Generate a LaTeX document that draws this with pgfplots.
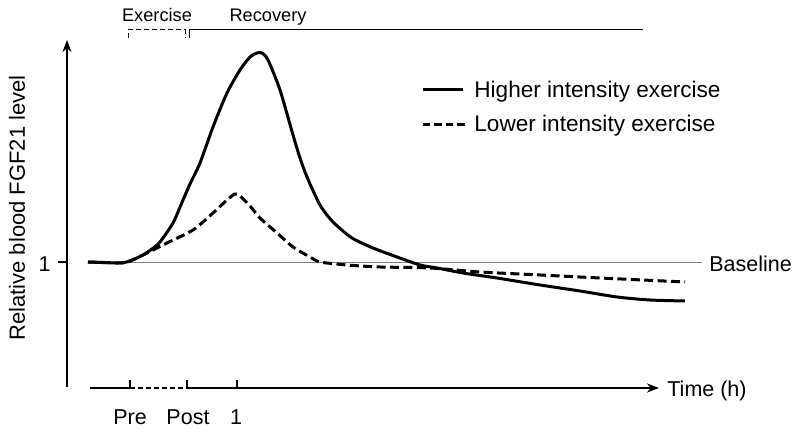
\documentclass[border=0pt]{standalone}
\usepackage{fontspec}
\setmainfont{Liberation Sans}
\usepackage{pgfplots}
\pgfplotsset{compat=1.18}
\usetikzlibrary{arrows.meta}

\begin{document}
\begin{tikzpicture}
\begin{axis}[
    x=0.5pt, y=0.5pt,
    xmin=0, xmax=800, ymin=0, ymax=432,
    hide axis,
    clip=false,
]
% fixes the picture to the full 800 x 432 frame
\path (axis cs:0,0) rectangle (axis cs:800,432);

% baseline
\addplot[gray, line width=0.5pt] coordinates {(88,169.5) (702,169.5)};

% higher intensity
\addplot[black, line width=1.5pt, smooth, tension=0.45, line join=round] coordinates {
    (88,170) (105,169.5) (120,169) (130,171) (143,177) (152,183) (160,190)
    (173,209) (183,232) (190,248) (200,269) (213,305) (227,339) (240,362)
    (250,375) (257,379) (262,379) (268,372) (280,342) (293,297) (300,274)
    (307,255) (320,227) (333,210) (352,194) (373,184) (397,175) (420,167)
    (437,164) (463,159) (497,154) (540,147) (580,141) (617,135) (650,132) (685,131)
};

% lower intensity
\addplot[black, line width=1.5pt, smooth, tension=0.45, dash pattern=on 4.5pt off 2.2pt] coordinates {
    (88,170) (120,169) (130,171) (147,179) (167,189) (193,202) (213,219)
    (227,232) (235,238) (240,236) (250,226) (260,214) (277,199) (293,185)
    (310,175) (320,170) (347,167) (380,165) (430,164) (480,160) (540,157)
    (600,154) (685,150)
};

% axes
\draw[line width=1pt, -{Stealth[length=6pt,width=4.5pt]}] (axis cs:67,45) -- (axis cs:67,392);
\draw[line width=1pt] (axis cs:58,170) -- (axis cs:67,170);
\draw[line width=1pt] (axis cs:90,44) -- (axis cs:130,44);
\draw[line width=1pt, dash pattern=on 2.5pt off 1.5pt] (axis cs:130,44) -- (axis cs:187,44);
\draw[line width=1pt, -{Stealth[length=6pt,width=4.5pt]}] (axis cs:187,44) -- (axis cs:659,44);
\draw[line width=1pt] (axis cs:130,44) -- (axis cs:130,52);
\draw[line width=1pt] (axis cs:187,44) -- (axis cs:187,52);
\draw[line width=1pt] (axis cs:237,44) -- (axis cs:237,52);

% tick labels
\node[font=\fontsize{10.75}{12}\selectfont, anchor=base, inner sep=0pt] at (axis cs:130,7) {Pre};
\node[font=\fontsize{10.75}{12}\selectfont, anchor=base, inner sep=0pt] at (axis cs:188,7) {Post};
\node[font=\fontsize{10.75}{12}\selectfont, anchor=base, inner sep=0pt] at (axis cs:236,7) {1};
\node[font=\fontsize{10.75}{12}\selectfont, anchor=base east, inner sep=0pt] at (axis cs:51,160) {1};
\node[font=\fontsize{10.75}{12}\selectfont, anchor=base west, inner sep=0pt] at (axis cs:667,35) {Time (h)};
\node[font=\fontsize{10.75}{12}\selectfont, anchor=base west, inner sep=0pt] at (axis cs:709,160) {Baseline};
\node[font=\fontsize{11}{13}\selectfont, anchor=base, inner sep=0pt, rotate=90] at (axis cs:25,224) {Relative blood FGF21 level};

% exercise / recovery brackets
\draw[line width=0.5pt, dash pattern=on 2.5pt off 1.5pt] (axis cs:128,394) -- (axis cs:128,402) -- (axis cs:185,402) -- (axis cs:185,394);
\draw[line width=0.5pt] (axis cs:189,394) -- (axis cs:189,402) -- (axis cs:643,402);
\node[font=\fontsize{9.1}{11}\selectfont, anchor=base, inner sep=0pt] at (axis cs:157,410) {Exercise};
\node[font=\fontsize{9.1}{11}\selectfont, anchor=base, inner sep=0pt] at (axis cs:268,410) {Recovery};

% legend
\draw[line width=1.5pt] (axis cs:423,342) -- (axis cs:463,342);
\node[font=\fontsize{11.3}{13}\selectfont, anchor=base west, inner sep=0pt] at (axis cs:474,334) {Higher intensity exercise};
\draw[line width=1.5pt, dash pattern=on 3.7pt off 2pt] (axis cs:423,307) -- (axis cs:465,307);
\node[font=\fontsize{11.3}{13}\selectfont, anchor=base west, inner sep=0pt] at (axis cs:474,300) {Lower intensity exercise};
\end{axis}
\end{tikzpicture}
\end{document}
